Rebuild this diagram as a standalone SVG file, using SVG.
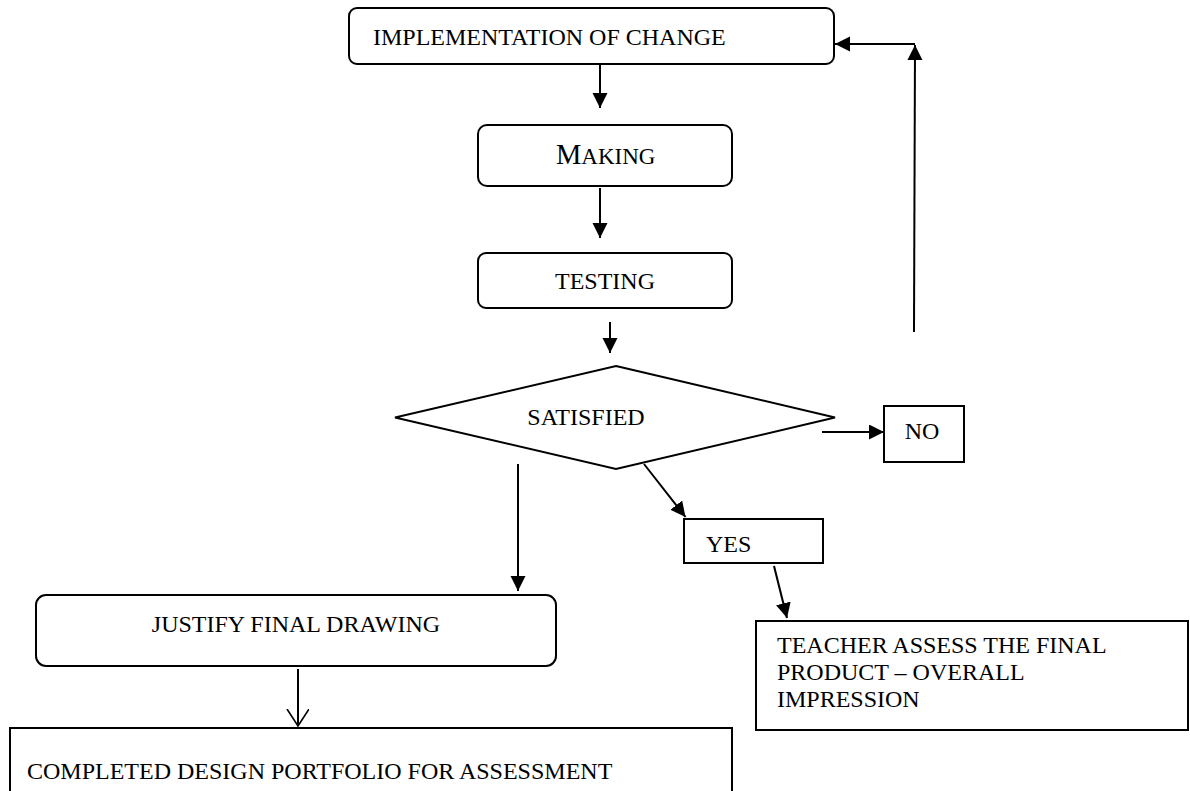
<svg xmlns="http://www.w3.org/2000/svg" width="1190" height="791" viewBox="0 0 1190 791">
<defs>
<style>
.box{fill:#fff;stroke:#000;stroke-width:2}
.ln{fill:none;stroke:#000;stroke-width:2}
.t{font-family:"Liberation Serif","Times New Roman",serif;font-size:24px;fill:#000}
.c{text-anchor:middle}
</style>
<marker id="ah" markerUnits="userSpaceOnUse" markerWidth="16" markerHeight="16" refX="15" refY="7.5" orient="auto" viewBox="0 0 16 16">
<path d="M0,0 L15,7.5 L0,15 z" fill="#000"/>
</marker>
<marker id="av" markerUnits="userSpaceOnUse" markerWidth="20" markerHeight="24" refX="17" refY="11" orient="auto" viewBox="0 0 20 24">
<path d="M0,0 L17,11 L0,22" fill="none" stroke="#000" stroke-width="1.6"/>
</marker>
</defs>
<rect width="1190" height="791" fill="#fff"/>
<g id="connectors">
<line class="ln" x1="600" y1="65" x2="600" y2="108" marker-end="url(#ah)"/>
<line class="ln" x1="600" y1="188" x2="600" y2="238" marker-end="url(#ah)"/>
<line class="ln" x1="610" y1="322" x2="610" y2="353" marker-end="url(#ah)"/>
<line class="ln" x1="822" y1="432" x2="884" y2="432" marker-end="url(#ah)"/>
<line class="ln" x1="644" y1="464" x2="685.5" y2="517" marker-end="url(#ah)"/>
<line class="ln" x1="774" y1="566" x2="787" y2="618" marker-end="url(#ah)"/>
<line class="ln" x1="518" y1="464" x2="518" y2="591" marker-end="url(#ah)"/>
<line class="ln" x1="298" y1="669" x2="298" y2="726" marker-end="url(#av)"/>
<line class="ln" x1="914" y1="332" x2="915" y2="45" marker-end="url(#ah)"/>
<line class="ln" x1="915" y1="44" x2="835" y2="44" marker-end="url(#ah)"/>
</g>
<g id="implementation">
<rect class="box" x="349" y="8" width="485" height="56" rx="8"/>
<text class="t" x="373" y="45">IMPLEMENTATION OF CHANGE</text>
</g>
<g id="making">
<rect class="box" x="478" y="125" width="254" height="61" rx="9"/>
<text class="t" x="556" y="164"><tspan font-size="28.5">M</tspan><tspan font-size="23">AKING</tspan></text>
</g>
<g id="testing">
<rect class="box" x="478" y="253" width="254" height="55" rx="8"/>
<text class="t c" x="605" y="289">TESTING</text>
</g>
<g id="satisfied">
<polygon class="box" points="616,366 835,417.5 616,469 395,417.5"/>
<text class="t c" x="586" y="425">SATISFIED</text>
</g>
<g id="no">
<rect class="box" x="884" y="406" width="80" height="56"/>
<text class="t c" x="922" y="439">NO</text>
</g>
<g id="yes">
<rect class="box" x="684" y="519" width="139" height="44"/>
<text class="t" x="706" y="552">YES</text>
</g>
<g id="teacher">
<rect class="box" x="756" y="621" width="432" height="109"/>
<text class="t" x="777" y="653">TEACHER ASSESS THE FINAL</text>
<text class="t" x="777" y="680">PRODUCT – OVERALL</text>
<text class="t" x="777" y="707">IMPRESSION</text>
</g>
<g id="justify">
<rect class="box" x="36" y="595" width="520" height="71" rx="10"/>
<text class="t c" x="296" y="632">JUSTIFY FINAL DRAWING</text>
</g>
<g id="completed">
<rect class="box" x="10" y="728" width="722" height="70"/>
<text class="t" x="27" y="779">COMPLETED DESIGN PORTFOLIO FOR ASSESSMENT</text>
</g>
</svg>
